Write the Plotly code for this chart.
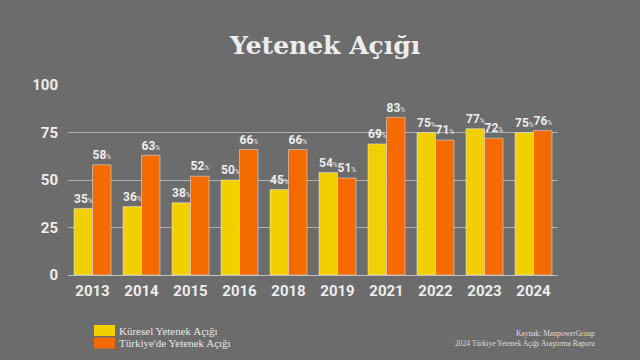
import plotly.graph_objects as go

years = ["2013", "2014", "2015", "2016", "2018", "2019", "2021", "2022", "2023", "2024"]
kuresel = [35, 36, 38, 50, 45, 54, 69, 75, 77, 75]
turkiye = [58, 63, 52, 66, 66, 51, 83, 71, 72, 76]
y_ticks = [0, 25, 50, 75, 100]
series_names = ["Küresel Yetenek Açığı", "Türkiye'de Yetenek Açığı"]

YELLOW = "#F2D000"
ORANGE = "#F26A00"
TXT = "#EDEDED"
BG = "#6c6c6c"

tmpl = "<b>%{y}</b><span style='font-size:7px'>%</span>"

fig = go.Figure()
for vals, name, col in [(kuresel, series_names[0], YELLOW), (turkiye, series_names[1], ORANGE)]:
    fig.add_bar(x=years, y=vals, name=name, marker_color=col,
                texttemplate=tmpl, textposition="outside", cliponaxis=False,
                textfont=dict(family="Roboto", size=13, color=TXT))

fig.update_layout(
    width=640, height=360,
    paper_bgcolor=BG, plot_bgcolor=BG,
    margin=dict(l=68, r=82, t=85, b=85, autoexpand=False),
    barmode="group", bargap=0.245, bargroupgap=0.0,
    title=dict(text="<b>Yetenek Açığı</b>", x=0.508, xanchor="center", y=0.875, yanchor="middle",
               font=dict(family="DejaVu Serif", size=25, color=TXT)),
    showlegend=False,
)
fig.update_xaxes(type="category", showgrid=False, showline=True, linecolor="rgba(230,230,230,0.7)",
                 linewidth=1, ticks="", ticklabelstandoff=2,
                 tickfont=dict(family="Roboto", size=15, color=TXT, weight="bold"))
fig.update_yaxes(range=[0, 100], tickvals=y_ticks, showgrid=True, gridcolor="rgba(230,230,230,0.55)",
                 gridwidth=1, zeroline=False, ticks="", ticklabelstandoff=9,
                 tickfont=dict(family="Roboto", size=15, color=TXT, weight="bold"))

# custom legend (swatches + labels) in pixel-like paper coords
W, H = 640.0, 360.0
pw, ph = W - 68 - 82, H - 85 - 85
def px(x): return (x - 68) / pw
def py(y): return (H - 85 - y) / ph

for i, (name, col) in enumerate(zip(series_names, [YELLOW, ORANGE])):
    y0 = 325 + i * 12.5
    fig.add_shape(type="rect", xref="paper", yref="paper",
                  x0=px(94), x1=px(115), y0=py(y0 + 11), y1=py(y0),
                  fillcolor=col, line_width=0)
    fig.add_annotation(text=name, xref="paper", yref="paper", x=px(117), y=py(y0 + 5.5),
                       xanchor="left", yanchor="middle", showarrow=False,
                       font=dict(family="Liberation Serif", size=11, color="#E6E6E6"))

fig.add_annotation(text="Kaynak: ManpowerGroup<br>2024 Türkiye Yetenek Açığı Araştırma Raporu",
                   xref="paper", yref="paper", x=px(597), y=py(327), xanchor="right", yanchor="top",
                   align="right", showarrow=False,
                   font=dict(family="Liberation Serif", size=7.5, color="#DDDDDD"))

fig.write_html("out.html", config={"displayModeBar": False},
               post_script="document.body.style.margin='0';document.body.style.overflow='hidden';")
